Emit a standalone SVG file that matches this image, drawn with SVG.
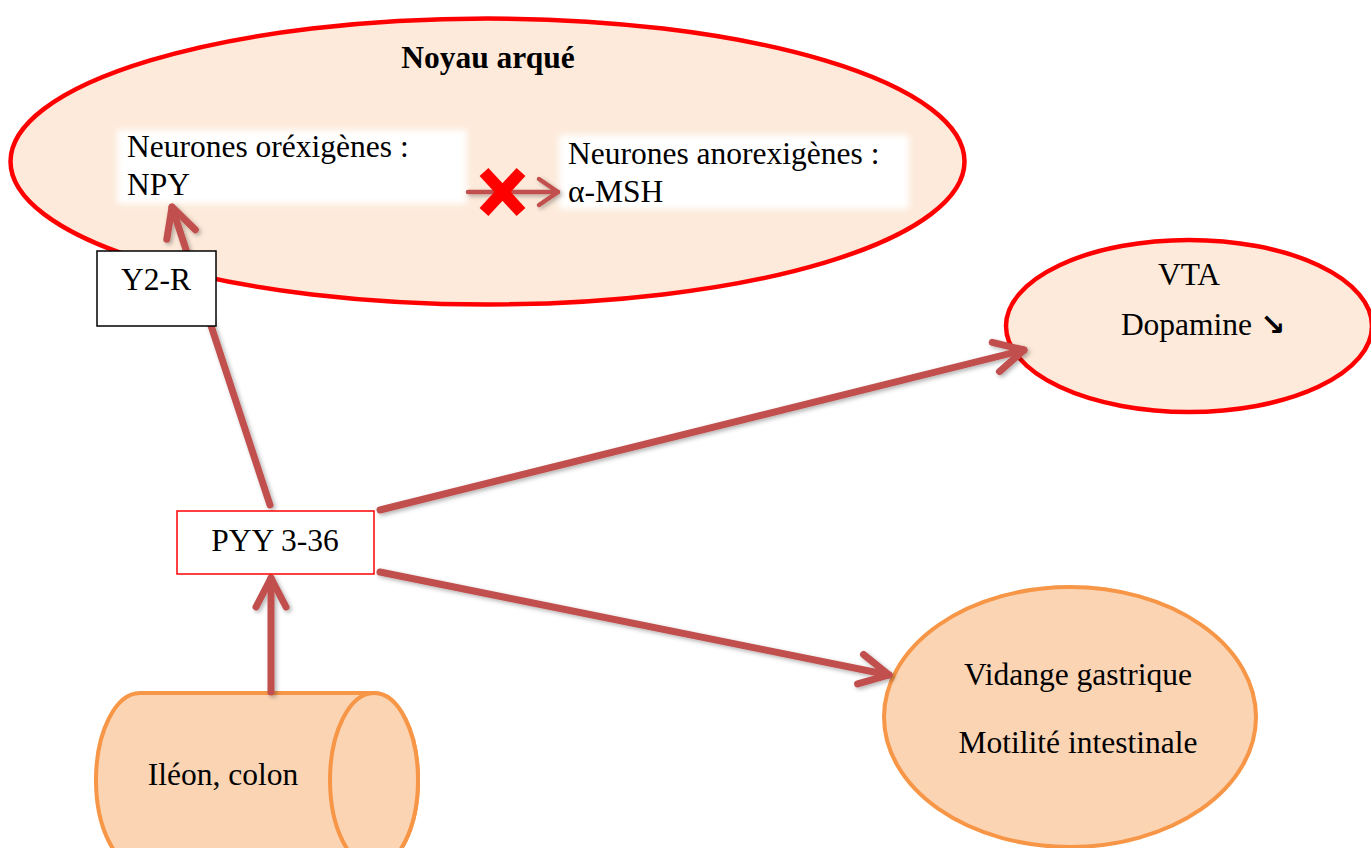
<svg xmlns="http://www.w3.org/2000/svg" width="1371" height="848" viewBox="0 0 1371 848">
<style>
text{font-family:"Liberation Serif","Times New Roman","DejaVu Serif",serif;font-size:31.5px;fill:#000}
.c{text-anchor:middle}
.red{fill:#FDEADA;stroke:#FF0000;stroke-width:4.5}
.org{fill:#FBD4B4;stroke:#F79646;stroke-width:4}
.arr{fill:none;stroke:#C0504D;stroke-width:7;stroke-linecap:round;stroke-linejoin:round}
.glow{fill:#FFFFFF}
</style>
<defs>
<filter id="soft" x="-10%" y="-20%" width="120%" height="140%"><feGaussianBlur stdDeviation="3"/></filter>
<filter id="sh" x="-10%" y="-10%" width="120%" height="120%"><feDropShadow dx="2" dy="2" stdDeviation="2" flood-color="#000" flood-opacity="0.3"/></filter>
<marker id="ah" markerUnits="userSpaceOnUse" orient="auto" refX="0" refY="0" markerWidth="60" markerHeight="60" viewBox="-40 -30 60 60" overflow="visible">
<path d="M-29,-15 L0,0 L-29,15" fill="none" stroke="#C0504D" stroke-width="7" stroke-linecap="round" stroke-linejoin="round"/>
</marker>
<marker id="ahs" markerUnits="userSpaceOnUse" orient="auto" refX="0" refY="0" markerWidth="40" markerHeight="40" viewBox="-30 -20 40 40" overflow="visible">
<path d="M-19,-13 L0,0 L-19,13" fill="none" stroke="#C0504D" stroke-width="4.5" stroke-linecap="round" stroke-linejoin="round"/>
</marker>
</defs>

<g id="noyau-arque">
<ellipse class="red" cx="487.5" cy="161.5" rx="477" ry="143"/>
<text x="488" y="68" class="c" font-weight="bold">Noyau arqué</text>
</g>
<g id="neurones-orexigenes">
<rect class="glow" x="117" y="130" width="350" height="74" filter="url(#soft)"/>
<text x="127" y="157">Neurones oréxigènes :</text>
<text x="127" y="195">NPY</text>
</g>
<g id="neurones-anorexigenes">
<rect class="glow" x="559" y="135" width="350" height="74" filter="url(#soft)"/>
<text x="568" y="164">Neurones anorexigènes :</text>
<text x="568" y="202">α-MSH</text>
</g>
<g id="vta">
<ellipse class="red" cx="1189" cy="326" rx="183" ry="86"/>
<text x="1189" y="285" class="c">VTA</text>
<text x="1203" y="335" class="c">Dopamine <tspan font-family="DejaVu Sans" font-size="30" font-weight="bold">↘</tspan></text>
</g>
<g id="vidange">
<ellipse class="org" cx="1070" cy="717" rx="186" ry="130"/>
<text x="1078" y="685" class="c">Vidange gastrique</text>
<text x="1078" y="753" class="c">Motilité intestinale</text>
</g>
<g id="ileon-colon">
<path class="org" d="M140,693 L374,693 A44,87 0 0 1 374,867 L140,867 A44,87 0 0 1 140,693 Z"/>
<ellipse class="org" cx="374" cy="780" rx="44" ry="87"/>
<text x="223" y="785" class="c">Iléon, colon</text>
</g>

<g id="connectors" filter="url(#sh)">
<line class="arr" x1="270" y1="505" x2="172" y2="207" marker-end="url(#ah)"/>
<line class="arr" x1="380" y1="510" x2="1024" y2="350" marker-end="url(#ah)"/>
<line class="arr" x1="380" y1="572" x2="889" y2="675" marker-end="url(#ah)"/>
<line class="arr" x1="271" y1="692" x2="271" y2="578" marker-end="url(#ah)"/>
<line class="arr" style="stroke-width:4.5" x1="468" y1="192" x2="558" y2="192" marker-end="url(#ahs)"/>
</g>
<g id="inhibition">
<path d="M484,172 L521,212 M521,172 L484,212" stroke="#FF0000" stroke-width="12" stroke-linecap="butt"/>
</g>

<g id="y2r">
<rect x="97" y="251" width="119" height="75" fill="#FFFFFF" stroke="#000" stroke-width="1.5"/>
<text x="156" y="290" class="c">Y2-R</text>
</g>
<g id="pyy">
<rect x="177" y="511" width="197" height="63" fill="#FFFFFF" stroke="#FF0000" stroke-width="1.5"/>
<text x="275" y="551" class="c">PYY 3-36</text>
</g>
</svg>
